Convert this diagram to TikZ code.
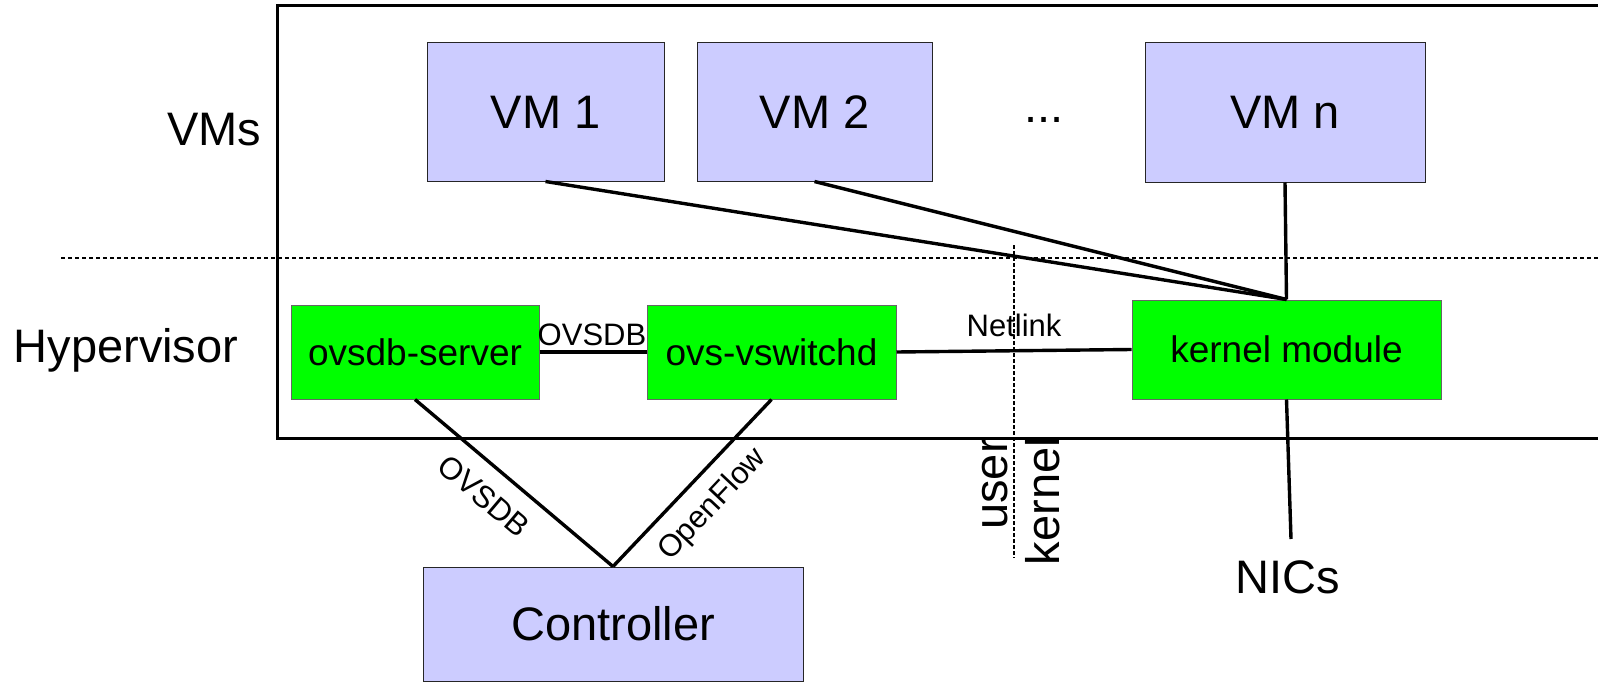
\documentclass[tikz,border=0pt]{standalone}
\usepackage{fontspec}
\setmainfont{Liberation Sans}
\definecolor{vmfill}{HTML}{CCCCFF}
\definecolor{procfill}{HTML}{00FF00}
\newcommand\sizeL{\fontsize{47}{56}\selectfont}
\newcommand\sizeM{\fontsize{37}{44}\selectfont}
\newcommand\sizeS{\fontsize{31}{37}\selectfont}
\begin{document}
\begin{tikzpicture}[x=1pt,y=-1pt,
  frame/.style={line width=3pt},
  layersep/.style={line width=1.6pt, dash pattern=on 4pt off 3pt},
  ringsep/.style={line width=1.2pt, dash pattern=on 3.5pt off 2.5pt},
  vmbox/.style={draw=black!85, line width=1pt, fill=vmfill, inner sep=0pt, font=\sizeL},
  procbox/.style={draw=black!60, line width=1pt, fill=procfill, inner sep=0pt, font=\sizeM},
  link/.style={line width=3.4pt},
  biglbl/.style={inner sep=0pt, font=\sizeL},
  smalllbl/.style={inner sep=0pt, font=\sizeS}]
\useasboundingbox (0,0) rectangle (1598,682);

% host frame, open on the right
\draw[frame] (1598,6) -- (277,6) -- (277,438) -- (1598,438);
% boundary between guests and hypervisor
\draw[layersep] (61,258) -- (1598,258);

% layer labels
\node[biglbl, anchor=base] (vms) at (214,146) {VMs};
\node[biglbl, anchor=base] (hyp) at (126,362) {Hypervisor};

% guests
\node[vmbox, minimum width=237pt, minimum height=138pt] (vm1) at (545.5,112) {VM 1};
\node[vmbox, minimum width=235pt, minimum height=138pt] (vm2) at (814.5,112) {VM 2};
\node[biglbl, anchor=base] (dots) at (1044,123) {...};
\node[vmbox, minimum width=280pt, minimum height=139pt] (vmn) at (1285,112.5) {VM n};

% hypervisor components
\node[procbox, minimum width=248pt, minimum height=94pt] (ovsdb) at (415,352) {ovsdb-server};
\node[procbox, minimum width=249pt, minimum height=94pt] (vsw) at (771.5,352) {ovs-vswitchd};
\node[procbox, minimum width=309pt, minimum height=99pt] (kmod) at (1286.5,349.5) {kernel module};

% controller and NICs
\node[vmbox, minimum width=380pt, minimum height=114pt] (ctrl) at (613,624) {Controller};
\node[biglbl, anchor=base] (nics) at (1287.5,593) {NICs};
\coordinate (nicsend) at (1291,539);

% connections
\draw[link] (vm1.south) -- (kmod.north);
\draw[link] (vm2.south) -- (kmod.north);
\draw[link] (vmn.south) -- (kmod.north);
\draw[link] (ovsdb.east) -- (vsw.west);
\draw[link] (vsw.east) -- (kmod.west);
\draw[link] (ovsdb.south) -- (ctrl.north);
\draw[link] (vsw.south) -- (ctrl.north);
\draw[link] (kmod.south) -- (nicsend);

% protocol labels
\node[smalllbl, anchor=base] (ovsdbtop) at (592,345) {OVSDB};
\node[smalllbl, anchor=base] (netlink) at (1014,336) {Netlink};
\node[smalllbl, rotate=-40.3] (ovsdbctl) at (484,496) {OVSDB};
\node[smalllbl, rotate=46.7] (ofctl) at (713,505) {OpenFlow};

% user / kernel boundary
\draw[ringsep] (1014,245) -- (1014,558);
\node[biglbl, rotate=90, anchor=base east] (user) at (1007,438) {user};
\node[biglbl, rotate=90, anchor=base east] (kern) at (1059,437) {kernel};
\end{tikzpicture}
\end{document}
